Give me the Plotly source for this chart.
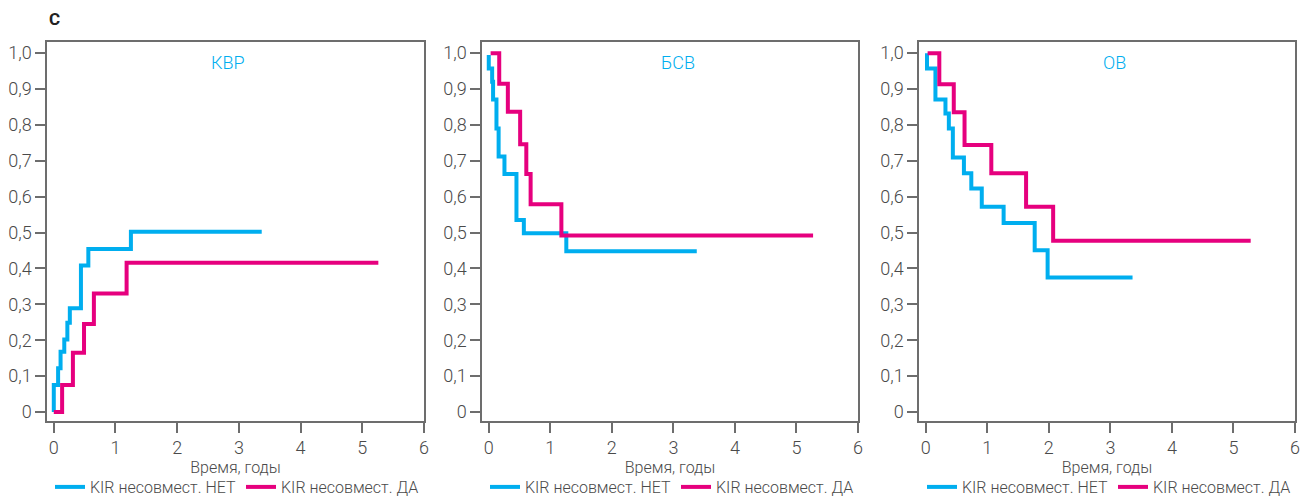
import plotly.graph_objects as go

# ---- data ----
panel_titles = ["КВР", "БСВ", "ОВ"]
series_names = ["KIR несовмест. НЕТ", "KIR несовмест. ДА"]
x_ticks = [0, 1, 2, 3, 4, 5, 6]
y_tickvals = [0, 0.1, 0.2, 0.3, 0.4, 0.5, 0.6, 0.7, 0.8, 0.9, 1.0]
y_ticktext = ["0", "0,1", "0,2", "0,3", "0,4", "0,5", "0,6", "0,7", "0,8", "0,9", "1,0"]
x_title = "Время, годы"

# КВР (cumulative incidence of relapse)
kvr_no_t = [0, 0.0, 0.07, 0.11, 0.17, 0.22, 0.26, 0.44, 0.56, 1.25, 3.37]
kvr_no_v = [0, 0.075, 0.122, 0.168, 0.202, 0.249, 0.289, 0.408, 0.454, 0.502, 0.502]
kvr_yes_t = [0, 0.135, 0.31, 0.49, 0.65, 1.18, 5.26]
kvr_yes_v = [0, 0.075, 0.165, 0.245, 0.33, 0.416, 0.416]

# БСВ (event-free survival)
bsv_no_t = [0, 0, 0.055, 0.07, 0.125, 0.16, 0.255, 0.45, 0.57, 1.26, 3.38]
bsv_no_v = [0.995, 0.957, 0.92, 0.871, 0.79, 0.712, 0.663, 0.535, 0.498, 0.448, 0.448]
bsv_yes_t = [0.03, 0.17, 0.31, 0.51, 0.61, 0.68, 1.18, 5.27]
bsv_yes_v = [1.0, 0.915, 0.837, 0.746, 0.663, 0.579, 0.492, 0.492]

# ОВ (overall survival)
ov_no_t = [0.02, 0.02, 0.157, 0.32, 0.375, 0.44, 0.62, 0.74, 0.91, 1.265, 1.77, 1.98, 3.36]
ov_no_v = [1.0, 0.957, 0.871, 0.832, 0.79, 0.709, 0.665, 0.623, 0.572, 0.527, 0.451, 0.375, 0.375]
ov_yes_t = [0.03, 0.22, 0.455, 0.63, 1.065, 1.63, 2.07, 5.28]
ov_yes_v = [1.0, 0.913, 0.835, 0.744, 0.665, 0.572, 0.477, 0.477]

panels = [
    (kvr_no_t, kvr_no_v, kvr_yes_t, kvr_yes_v),
    (bsv_no_t, bsv_no_v, bsv_yes_t, bsv_yes_v),
    (ov_no_t, ov_no_v, ov_yes_t, ov_yes_v),
]

# ---- style ----
W, H = 1316, 498
BLUE = "#00aeef"
MAGENTA = "#e6007e"
AXIS_C = "#6d6d6d"
TEXT_C = "#4a4a4a"
FONT = "Roboto"
LIGHT = 300

x_px = [(47, 424), (482, 858), (919, 1295)]
y_px = (42, 421)
y_dom = [1 - y_px[1] / H, 1 - y_px[0] / H]

fig = go.Figure()
legend_names = ["legend", "legend2", "legend3"]

for i, (nt, nv, yt, yv) in enumerate(panels):
    sfx = "" if i == 0 else str(i + 1)
    fig.add_trace(go.Scatter(
        x=nt, y=nv, mode="lines", line=dict(color=BLUE, width=4, shape="hv"),
        name=series_names[0], xaxis="x" + sfx, yaxis="y" + sfx, legend=legend_names[i],
    ))
    fig.add_trace(go.Scatter(
        x=yt, y=yv, mode="lines", line=dict(color=MAGENTA, width=4, shape="hv"),
        name=series_names[1], xaxis="x" + sfx, yaxis="y" + sfx, legend=legend_names[i],
    ))

layout = dict(
    width=W, height=H,
    margin=dict(l=0, r=0, t=0, b=0, autoexpand=False),
    paper_bgcolor="white", plot_bgcolor="white",
    font=dict(family=FONT, color=TEXT_C, size=16, weight=LIGHT),
    annotations=[],
)

for i in range(3):
    sfx = "" if i == 0 else str(i + 1)
    x0, x1 = x_px[i]
    layout["xaxis" + sfx] = dict(
        domain=[x0 / W, x1 / W], anchor="y" + sfx,
        range=[-0.11, 6], tickvals=x_ticks, ticks="outside", ticklen=10, tickwidth=1.5,
        tickcolor=AXIS_C, showline=True, linecolor=AXIS_C, linewidth=1.5, mirror=True,
        showgrid=False, zeroline=False,
        tickfont=dict(size=18, color=TEXT_C, family=FONT, weight=LIGHT),
        title=dict(text=x_title, font=dict(size=16, color=TEXT_C, family=FONT, weight=LIGHT), standoff=3),
    )
    layout["yaxis" + sfx] = dict(
        domain=y_dom, anchor="x" + sfx,
        range=[-0.025, 1.031], tickvals=y_tickvals, ticktext=y_ticktext,
        ticks="outside", ticklen=10, tickwidth=1.5, tickcolor=AXIS_C,
        showline=True, linecolor=AXIS_C, linewidth=1.5, mirror=True,
        showgrid=False, zeroline=False,
        tickfont=dict(size=18, color=TEXT_C, family=FONT, weight=LIGHT),
    )
    layout["annotations"].append(dict(
        text=panel_titles[i], xref="x%s domain" % sfx, yref="y%s domain" % sfx,
        x=0.48 if i == 0 else 0.52, y=0.945, showarrow=False,
        font=dict(size=18, color=BLUE, family=FONT), xanchor="center", yanchor="middle",
    ))
    layout[legend_names[i]] = dict(
        orientation="h", x=(x0 + 3) / W, xanchor="left", y=1 - 487 / H, yanchor="middle",
        font=dict(size=16, color=TEXT_C, family=FONT, weight=LIGHT), bgcolor="rgba(0,0,0,0)",
        itemwidth=30, tracegroupgap=0,
    )

layout["annotations"].append(dict(
    text="<b>С</b>", xref="paper", yref="paper", x=47 / W, y=1 - 19 / H,
    showarrow=False, xanchor="left", yanchor="middle",
    font=dict(size=17, color="#222222", family=FONT),
))

fig.update_layout(**layout)
fig.write_html("out.html")
